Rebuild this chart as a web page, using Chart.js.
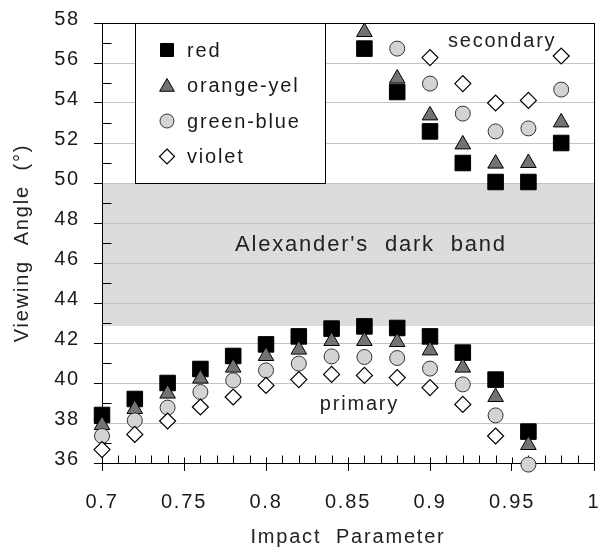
<!DOCTYPE html>
<html><head><meta charset="utf-8">
<script src="https://cdn.jsdelivr.net/npm/chart.js@4/dist/chart.umd.min.js"></script>
<style>html,body{margin:0;padding:0;background:#fff;overflow:hidden}#wrap{width:606px;height:552px}</style>
</head><body><div id="wrap"><canvas id="c" width="606" height="552"></canvas></div>
<script>
// ---- data ----
const seriesLabels = ['red', 'orange-yel', 'green-blue', 'violet'];
const primaryX   = [0.70, 0.72, 0.74, 0.76, 0.78, 0.80, 0.82, 0.84, 0.86, 0.88, 0.90, 0.92, 0.94, 0.96];
const secondaryX = [0.86, 0.88, 0.90, 0.92, 0.94, 0.96, 0.98];
const redPrimary    = [38.40, 39.20, 40.00, 40.70, 41.35, 41.93, 42.33, 42.72, 42.83, 42.75, 42.33, 41.52, 40.17, 37.57];
const orangePrimary = [37.90, 38.70, 39.47, 40.22, 40.77, 41.35, 41.67, 42.10, 42.10, 42.05, 41.63, 40.77, 39.30, 36.90];
const greenPrimary  = [37.35, 38.13, 38.77, 39.55, 40.13, 40.63, 40.97, 41.33, 41.30, 41.25, 40.72, 39.93, 38.38, 35.92];
const violetPrimary = [36.67, 37.43, 38.10, 38.80, 39.30, 39.88, 40.17, 40.43, 40.38, 40.27, 39.77, 38.93, 37.35, null];
const redSecondary    = [56.72, 54.55, 52.58, 51.00, 50.05, 50.05, 52.00];
const orangeSecondary = [57.55, 55.22, 53.38, 51.93, 50.97, 51.00, 53.03];
const greenSecondary  = [null, 56.72, 54.97, 53.47, 52.58, 52.73, 54.67];
const violetSecondary = [null, null, 56.27, 54.97, 54.00, 54.13, 56.35];
const bandRange = [42.85, 50];
const xTickValues = [0.7, 0.75, 0.8, 0.85, 0.9, 0.95, 1.0];
const xTickLabels = ['0.7', '0.75', '0.8', '0.85', '0.9', '0.95', '1'];
const xMinorTicks = [0.71,0.72,0.73,0.74,0.76,0.77,0.78,0.79,0.81,0.82,0.83,0.84,0.86,0.87,0.88,0.89,0.91,0.92,0.93,0.94,0.96,0.97,0.98,0.99];
const yTickValues = [36, 38, 40, 42, 44, 46, 48, 50, 52, 54, 56, 58];
const yTickLabels = ['36', '38', '40', '42', '44', '46', '48', '50', '52', '54', '56', '58'];
const yMinorTicks = [37, 39, 41, 43, 45, 47, 49, 51, 53, 55, 57];
const annotations = [
  {text: 'secondary', x: 0.944, y: 56.8, size: 20},
  {text: 'primary', x: 0.857, y: 38.65, size: 20},
  {text: "Alexander's  dark  band", x: 0.864, y: 46.6, size: 22}
];

// ---- styling ----
const FONT = "'Liberation Sans', Arial, sans-serif";
const LS = '1.8px';
const TXT = '#1a1a1a';
const styles = [
  {pointStyle: 'rect', radius: 11, bg: '#000000', border: '#000000', bw: 1, lr: 9.2},
  {pointStyle: 'triangle', radius: 9, bg: '#737373', border: '#000000', bw: 1, lr: 8.5},
  {pointStyle: 'circle', radius: 7.5, bg: '#d3d3d3', border: '#333333', bw: 1, lr: 7},
  {pointStyle: 'rectRot', radius: 8, bg: '#ffffff', border: '#000000', bw: 1.2, lr: 7.5}
];
const prim = [redPrimary, orangePrimary, greenPrimary, violetPrimary];
const sec = [redSecondary, orangeSecondary, greenSecondary, violetSecondary];

function pts(xs, ys) {
  const out = [];
  xs.forEach((x, i) => { if (ys[i] !== null) out.push({x: x, y: ys[i]}); });
  return out;
}
const datasets = seriesLabels.map((lab, k) => ({
  label: lab,
  data: pts(primaryX, prim[k]).concat(pts(secondaryX, sec[k])),
  showLine: false,
  pointStyle: styles[k].pointStyle,
  pointRadius: styles[k].radius,
  pointHoverRadius: styles[k].radius,
  backgroundColor: styles[k].bg,
  borderColor: styles[k].border,
  pointBorderWidth: styles[k].bw,
  borderWidth: styles[k].bw,
  clip: false,
  order: 4 - k
}));

function px(v) { return Math.round(v) + 0.5; }

const spacingPlugin = {
  id: 'spacing',
  beforeLayout(chart) { chart.ctx.letterSpacing = LS; },
  beforeDraw(chart) { chart.ctx.letterSpacing = LS; }
};

const bandPlugin = {
  id: 'band',
  beforeDraw(chart) {
    const {ctx, chartArea: a, scales: {y}} = chart;
    const y1 = Math.round(y.getPixelForValue(bandRange[1]));
    const y0 = Math.round(y.getPixelForValue(bandRange[0]));
    ctx.save();
    ctx.fillStyle = '#dcdcdc';
    ctx.fillRect(a.left, y1, a.right - a.left, y0 - y1);
    ctx.restore();
  }
};

function drawMarker(ctx, style, x, y, r) {
  ctx.beginPath();
  if (style === 'rect') {
    const s = r * Math.SQRT1_2;
    ctx.rect(x - s, y - s, 2 * s, 2 * s);
  } else if (style === 'triangle') {
    for (let i = 0; i < 3; i++) {
      const ang = i * 2 * Math.PI / 3;
      const xx = x + Math.sin(ang) * r, yy = y - Math.cos(ang) * r;
      if (i === 0) ctx.moveTo(xx, yy); else ctx.lineTo(xx, yy);
    }
    ctx.closePath();
  } else if (style === 'circle') {
    ctx.arc(x, y, r, 0, Math.PI * 2);
  } else {
    ctx.moveTo(x, y - r); ctx.lineTo(x + r, y); ctx.lineTo(x, y + r); ctx.lineTo(x - r, y); ctx.closePath();
  }
  ctx.fill(); ctx.stroke();
}

const framePlugin = {
  id: 'frame',
  beforeDatasetsDraw(chart) {
    const {ctx, chartArea: a, scales: {x, y}} = chart;
    ctx.save();
    ctx.letterSpacing = LS;
    // legend box
    const lx0 = a.left + 33, lx1 = a.left + 223;
    const ly0 = a.top, ly1 = Math.round(y.getPixelForValue(50));
    ctx.fillStyle = '#fff';
    ctx.fillRect(lx0, ly0, lx1 - lx0, ly1 - ly0);
    ctx.strokeStyle = '#000'; ctx.lineWidth = 1;
    ctx.strokeRect(px(lx0), px(ly0), Math.round(lx1 - lx0), Math.round(ly1 - ly0));
    ctx.font = '20px ' + FONT;
    ctx.textBaseline = 'middle'; ctx.textAlign = 'left';
    seriesLabels.forEach((lab, k) => {
      const cy = a.top + 27 + k * 35.5;
      ctx.fillStyle = styles[k].bg; ctx.strokeStyle = styles[k].border; ctx.lineWidth = styles[k].bw;
      drawMarker(ctx, styles[k].pointStyle, lx0 + 32, cy + (k === 1 ? 1.5 : 0), styles[k].lr);
      ctx.fillStyle = TXT;
      ctx.fillText(lab, lx0 + 52, cy + 1);
    });
    // frame
    ctx.strokeStyle = '#000'; ctx.lineWidth = 1;
    ctx.strokeRect(px(a.left), px(a.top), Math.round(a.right - a.left), Math.round(a.bottom - a.top));
    // minor ticks
    ctx.beginPath();
    const yb = px(a.bottom);
    xMinorTicks.forEach(v => { const xx = px(x.getPixelForValue(v)); ctx.moveTo(xx, yb); ctx.lineTo(xx, yb - 8); });
    xTickValues.forEach(v => { const xx = px(x.getPixelForValue(v)); ctx.moveTo(xx, yb); ctx.lineTo(xx, yb - 6); });
    const xl = px(a.left);
    yMinorTicks.forEach(v => { const yy = px(y.getPixelForValue(v)); ctx.moveTo(xl, yy); ctx.lineTo(xl + 9, yy); });
    ctx.stroke();
    // annotations
    ctx.fillStyle = '#222';
    ctx.textAlign = 'center'; ctx.textBaseline = 'alphabetic';
    annotations.forEach(an => {
      ctx.font = an.size + 'px ' + FONT;
      ctx.fillText(an.text, x.getPixelForValue(an.x), y.getPixelForValue(an.y));
    });
    ctx.restore();
  }
};

new Chart(document.getElementById('c'), {
  type: 'scatter',
  data: {datasets: datasets},
  options: {
    responsive: false, animation: false, devicePixelRatio: 1,
    layout: {padding: {top: 23, right: 2, left: 0, bottom: 0}},
    plugins: {legend: {display: false}, tooltip: {enabled: false}},
    scales: {
      x: {
        type: 'linear', min: 0.7, max: 1.0,
        afterBuildTicks(s) { s.ticks = xTickValues.map(v => ({value: v})); },
        ticks: {
          callback: (v, i) => xTickLabels[i], font: {family: FONT, size: 20}, color: TXT,
          padding: 19, maxRotation: 0, autoSkip: false
        },
        grid: {drawOnChartArea: false, drawTicks: true, tickLength: 8, tickColor: '#000', tickWidth: 1},
        border: {display: true, color: '#000', width: 1},
        title: {display: true, text: 'Impact  Parameter', font: {family: FONT, size: 20}, color: '#222', padding: {top: 4, bottom: 3}},
        afterFit(s) { s.height = 89; s.paddingLeft = 0; s.paddingRight = 0; }
      },
      y: {
        type: 'linear', min: 36, max: 58,
        afterBuildTicks(s) { s.ticks = yTickValues.map(v => ({value: v})); },
        ticks: {
          callback: (v, i) => yTickLabels[i], font: {family: FONT, size: 20}, color: TXT,
          padding: 14, labelOffset: -4, autoSkip: false
        },
        grid: {color: '#c4c4c4', lineWidth: 1, drawTicks: true, tickLength: 8, tickColor: '#000'},
        border: {display: true, color: '#000', width: 1},
        title: {display: true, text: 'Viewing  Angle  (\u00b0)', font: {family: FONT, size: 20}, color: '#222', padding: {top: 10, bottom: 0}},
        afterFit(s) { s.width = 102; s.paddingTop = 0; s.paddingBottom = 0; }
      }
    }
  },
  plugins: [spacingPlugin, bandPlugin, framePlugin]
});
</script>
</body></html>
